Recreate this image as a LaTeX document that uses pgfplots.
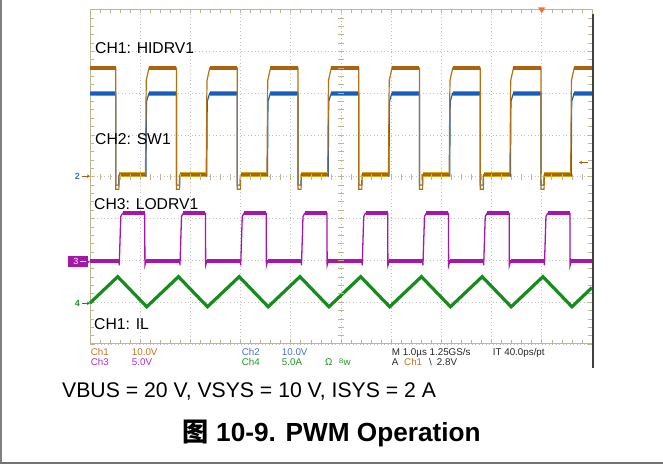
\documentclass[border=0pt]{standalone}
\usepackage{fontspec}
\setmainfont{Liberation Sans}
\newfontfamily\cjk{Noto Sans CJK SC}
\usepackage{pgfplots}
\usepackage{pgfplotstable}
\pgfplotsset{compat=1.18}
\usetikzlibrary{arrows.meta}

\definecolor{scopeframe}{RGB}{190,182,140}
\definecolor{chone}{RGB}{170,100,15}
\definecolor{chonefringe}{RGB}{215,168,20}
\definecolor{chtwo}{RGB}{22,94,184}
\definecolor{chtwofringe}{RGB}{70,165,225}
\definecolor{chthree}{RGB}{165,22,170}
\definecolor{chfour}{RGB}{22,140,28}
\definecolor{txtone}{RGB}{200,112,30}
\definecolor{txttwo}{RGB}{70,112,205}
\definecolor{txtthree}{RGB}{175,45,195}
\definecolor{txtfour}{RGB}{30,150,30}
\definecolor{trig}{RGB}{245,110,50}

\newcommand\fs[1]{\fontsize{#1bp}{#1bp}\selectfont}

% x in divisions (1 us/div), y in divisions
\pgfplotstableread{
x y
0 2.6
0.512 2.6
0.514 -0.3
0.575 -0.3
0.58 0.05
1.105 0.05
1.12 2.3
1.175 2.6
1.722 2.6
1.724 -0.3
1.785 -0.3
1.79 0.05
2.315 0.05
2.33 2.3
2.385 2.6
2.932 2.6
2.934 -0.3
2.995 -0.3
3.0 0.05
3.525 0.05
3.54 2.3
3.595 2.6
4.142 2.6
4.144 -0.3
4.205 -0.3
4.21 0.05
4.735 0.05
4.75 2.3
4.805 2.6
5.352 2.6
5.354 -0.3
5.415 -0.3
5.42 0.05
5.945 0.05
5.96 2.3
6.015 2.6
6.562 2.6
6.564 -0.3
6.625 -0.3
6.63 0.05
7.155 0.05
7.17 2.3
7.225 2.6
7.772 2.6
7.774 -0.3
7.835 -0.3
7.84 0.05
8.365 0.05
8.38 2.3
8.435 2.6
8.982 2.6
8.984 -0.3
9.045 -0.3
9.05 0.05
9.575 0.05
9.59 2.3
9.645 2.6
10 2.6
}\chonefull

\pgfplotstableread{
x y
0 2.6
0.512 2.6
nan nan
0.58 0.05
1.105 0.05
nan nan
1.175 2.6
1.722 2.6
nan nan
1.79 0.05
2.315 0.05
nan nan
2.385 2.6
2.932 2.6
nan nan
3.0 0.05
3.525 0.05
nan nan
3.595 2.6
4.142 2.6
nan nan
4.21 0.05
4.735 0.05
nan nan
4.805 2.6
5.352 2.6
nan nan
5.42 0.05
5.945 0.05
nan nan
6.015 2.6
6.562 2.6
nan nan
6.63 0.05
7.155 0.05
nan nan
7.225 2.6
7.772 2.6
nan nan
7.84 0.05
8.365 0.05
nan nan
8.435 2.6
8.982 2.6
nan nan
9.05 0.05
9.575 0.05
nan nan
9.645 2.6
10 2.6
}\chonelev

\pgfplotstableread{
x y
0 2.0
0.512 2.0
0.514 -0.2
0.57 -0.2
0.577 0.02
1.115 0.02
1.125 1.8
1.175 2.0
1.722 2.0
1.724 -0.2
1.78 -0.2
1.787 0.02
2.325 0.02
2.335 1.8
2.385 2.0
2.932 2.0
2.934 -0.2
2.99 -0.2
2.997 0.02
3.535 0.02
3.545 1.8
3.595 2.0
4.142 2.0
4.144 -0.2
4.2 -0.2
4.207 0.02
4.745 0.02
4.755 1.8
4.805 2.0
5.352 2.0
5.354 -0.2
5.41 -0.2
5.417 0.02
5.955 0.02
5.965 1.8
6.015 2.0
6.562 2.0
6.564 -0.2
6.62 -0.2
6.627 0.02
7.165 0.02
7.175 1.8
7.225 2.0
7.772 2.0
7.774 -0.2
7.83 -0.2
7.837 0.02
8.375 0.02
8.385 1.8
8.435 2.0
8.982 2.0
8.984 -0.2
9.04 -0.2
9.047 0.02
9.585 0.02
9.595 1.8
9.645 2.0
10 2.0
}\chtwofull

\pgfplotstableread{
x y
0 2.0
0.512 2.0
nan nan
1.175 2.0
1.722 2.0
nan nan
2.385 2.0
2.932 2.0
nan nan
3.595 2.0
4.142 2.0
nan nan
4.805 2.0
5.352 2.0
nan nan
6.015 2.0
6.562 2.0
nan nan
7.225 2.0
7.772 2.0
nan nan
8.435 2.0
8.982 2.0
nan nan
9.645 2.0
10 2.0
}\chtwolev

\pgfplotstableread{
x y
0 -2.01
0.578 -2.01
0.582 -2.12
0.613 -0.95
0.648 -0.875
1.09 -0.875
1.094 -2.12
1.12 -2.01
1.788 -2.01
1.792 -2.12
1.823 -0.95
1.858 -0.875
2.30 -0.875
2.304 -2.12
2.33 -2.01
2.998 -2.01
3.002 -2.12
3.033 -0.95
3.068 -0.875
3.51 -0.875
3.514 -2.12
3.54 -2.01
4.208 -2.01
4.212 -2.12
4.243 -0.95
4.278 -0.875
4.72 -0.875
4.724 -2.12
4.75 -2.01
5.418 -2.01
5.422 -2.12
5.453 -0.95
5.488 -0.875
5.93 -0.875
5.934 -2.12
5.96 -2.01
6.628 -2.01
6.632 -2.12
6.663 -0.95
6.698 -0.875
7.14 -0.875
7.144 -2.12
7.17 -2.01
7.838 -2.01
7.842 -2.12
7.873 -0.95
7.908 -0.875
8.35 -0.875
8.354 -2.12
8.38 -2.01
9.048 -2.01
9.052 -2.12
9.083 -0.95
9.118 -0.875
9.56 -0.875
9.564 -2.12
9.59 -2.01
10 -2.01
}\chthreefull

\pgfplotstableread{
x y
0 -2.01
0.578 -2.01
nan nan
0.648 -0.875
1.09 -0.875
nan nan
1.12 -2.01
1.788 -2.01
nan nan
1.858 -0.875
2.30 -0.875
nan nan
2.33 -2.01
2.998 -2.01
nan nan
3.068 -0.875
3.51 -0.875
nan nan
3.54 -2.01
4.208 -2.01
nan nan
4.278 -0.875
4.72 -0.875
nan nan
4.75 -2.01
5.418 -2.01
nan nan
5.488 -0.875
5.93 -0.875
nan nan
5.96 -2.01
6.628 -2.01
nan nan
6.698 -0.875
7.14 -0.875
nan nan
7.17 -2.01
7.838 -2.01
nan nan
7.908 -0.875
8.35 -0.875
nan nan
8.38 -2.01
9.048 -2.01
nan nan
9.118 -0.875
9.56 -0.875
nan nan
9.59 -2.01
10 -2.01
}\chthreelev

\pgfplotstableread{
x y
0 -3.02
0.552 -2.39
1.13 -3.11
1.762 -2.39
2.34 -3.11
2.972 -2.39
3.55 -3.11
4.182 -2.39
4.76 -3.11
5.392 -2.39
5.97 -3.11
6.602 -2.39
7.18 -3.11
7.812 -2.39
8.39 -3.11
9.022 -2.39
9.60 -3.11
10 -2.65
}\chfour

\begin{document}
\begin{tikzpicture}
\begin{axis}[
  at={(90bp,122bp)}, anchor=south west,
  width=502bp, height=334.5bp, scale only axis,
  xmin=0, xmax=10, ymin=-4, ymax=4,
  xtick={0,...,10}, ytick={-4,...,4},
  xticklabels={}, yticklabels={},
  minor x tick num=4, minor y tick num=4,
  tick align=inside, tick pos=both,
  major tick length=4bp, minor tick length=4bp,
  tick style={draw=scopeframe, line width=0.7bp},
  grid=major,
  major grid style={draw=gray!50, line width=0.7bp, dash pattern=on 1bp off 2.5bp},
  axis line style={draw=scopeframe, line width=1bp},
  clip=false,
  unbounded coords=jump,
]
% CH2 SW1
\addplot[chtwo, line width=1.2bp] table {\chtwofull};
\addplot[chtwofringe, line width=5bp] table {\chtwolev};
\addplot[chtwo, line width=2.8bp] table {\chtwolev};
% CH1 HIDRV1
\addplot[chone!80!chonefringe, line width=1.2bp] table {\chonefull};
\addplot[chonefringe, line width=4.8bp] table {\chonelev};
\addplot[chone, line width=3.2bp] table {\chonelev};
% CH3 LODRV1
\addplot[chthree, line width=1.3bp] table {\chthreefull};
\addplot[chthree, line width=4.2bp] table {\chthreelev};
% CH4 IL
\addplot[chfour, line width=3.2bp, line join=miter] table {\chfour};
\end{axis}

\begin{scope}[x=1bp, y=-1bp, shift={(0bp,466bp)}]
  % centre crosshair ticks
  \foreach \i in {1,...,49}
    \draw[scopeframe, line width=0.7bp] ({90+10.04*\i},173.75) -- ++(0,6);
  \foreach \j in {1,...,39}
    \draw[scopeframe, line width=0.7bp] (338,{9.5+8.3625*\j}) -- ++(6,0);

  % channel labels
  \node[anchor=base west, inner sep=0] at (95,54) {\fs{15.7}CH1: HIDRV1};
  \node[anchor=base west, inner sep=0] at (95,145) {\fs{15.7}CH2: SW1};
  \node[anchor=base west, inner sep=0] at (94,210) {\fs{15.7}CH3: LODRV1};
  \node[anchor=base west, inner sep=0] at (94,330) {\fs{15.7}CH1: IL};

  % ground markers
  \node[anchor=center, inner sep=0, text=txttwo] at (77.5,176.5) {\fs{9}\bfseries 2};
  \draw[chone, line width=0.9bp, -{Stealth[length=3bp,width=3.5bp]}] (82,176.2) -- (90,176.2);
  \fill[chthree] (68,256) rectangle (87.5,267.3);
  \node[anchor=center, inner sep=0, text=white] at (76,261.8) {\fs{9}3};
  \draw[white, line width=0.8bp] (80,261.8) -- (86,261.8);
  \draw[chthree, line width=0.9bp, -{Stealth[length=3bp,width=3.5bp]}] (86,261.8) -- (90,261.8);
  \node[anchor=center, inner sep=0, text=txtfour] at (77.5,303.5) {\fs{9}\bfseries 4};
  \draw[chfour, line width=0.9bp, -{Stealth[length=3bp,width=3.5bp]}] (82,303.3) -- (90,303.3);

  % trigger markers
  \draw[chone, line width=0.9bp, -{Stealth[length=3bp,width=3.5bp]}] (588,162.5) -- (579,162.5);
  \fill[trig] (538.2,7.5) -- (545.2,7.5) -- (541.7,13.5) -- cycle;

  % screen edge
  \draw[black!75, line width=1.3bp] (593,14) -- (593,368);

  % status lines
  \begin{scope}[every node/.style={anchor=base west, inner sep=0}]
    \node[text=txtone] at (90.7,356) {\fs{9.8}Ch1};
    \node[text=txtone] at (131.7,356) {\fs{9.8}10.0V};
    \node[text=txtthree] at (90.7,366) {\fs{9.8}Ch3};
    \node[text=txtthree] at (131.7,366) {\fs{9.8}5.0V};
    \node[text=txttwo] at (241.7,356) {\fs{9.8}Ch2};
    \node[text=txttwo] at (281.7,356) {\fs{9.8}10.0V};
    \node[text=txtfour] at (241.7,366) {\fs{9.8}Ch4};
    \node[text=txtfour] at (281.7,366) {\fs{9.8}5.0A};
    \node[text=txtfour] at (325,366) {\fs{9.8}Ω};
    \node[text=txtfour] at (339,366) {\fs{9.8}\raisebox{2bp}{\fs{6.5}B}w};
    \node[text=black!85] at (391.7,356) {\fs{9.8}M 1.0µs 1.25GS/s};
    \node[text=black!85] at (492.7,356) {\fs{9.8}IT 40.0ps/pt};
    \node[text=black!85] at (391.7,366) {\fs{9.8}A};
    \node[text=txtone] at (404,366) {\fs{9.8}Ch1};
    \node[text=black!85] at (429,366) {\fs{9.8}\textbackslash};
    \node[text=black!85] at (436.7,366) {\fs{9.8}2.8V};
  \end{scope}

  % caption and figure title
  \node[anchor=base west, inner sep=0] at (62,397.7) {\fs{21.2}VBUS = 20 V, VSYS = 10 V, ISYS = 2 A};
  \node[anchor=base, inner sep=0] at (331.7,441.7) {\fs{26.2}\bfseries{\cjk 图} 10-9. PWM Operation};

  % page frame
  \draw[black!50, line width=1.3bp] (1,0) -- (1,463.5);
  \draw[black!55, line width=2bp] (0,463.5) -- (663,463.5);

  \pgfresetboundingbox
  \path (0,0) rectangle (663,466);
\end{scope}
\end{tikzpicture}
\end{document}
